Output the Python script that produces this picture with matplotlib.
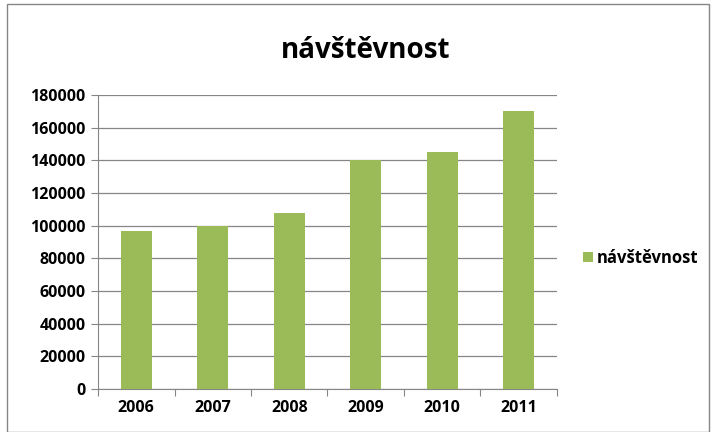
import matplotlib
matplotlib.use("Agg")
import matplotlib.pyplot as plt
from matplotlib.patches import Rectangle

# data
roky = ["2006", "2007", "2008", "2009", "2010", "2011"]
navstevnost = [97000, 100000, 108000, 140000, 145000, 170000]
y_ticks = [0, 20000, 40000, 60000, 80000, 100000, 120000, 140000, 160000, 180000]

plt.rcParams['font.family'] = ['Open Sans', 'DejaVu Sans']

fig = plt.figure(figsize=(7.13, 4.32), dpi=100)
ax = fig.add_axes([98 / 713, 1 - 389 / 432, 459 / 713, 294 / 432])

x = range(len(roky))
ax.bar(x, navstevnost, width=0.4, color="#9BBB59", zorder=3, label="návštěvnost")

ax.set_xlim(-0.5, len(roky) - 0.5)
ax.set_ylim(0, 180000)
ax.set_yticks(y_ticks)
ax.set_yticklabels([str(v) for v in y_ticks], fontsize=11.5, fontweight="bold")
ax.set_xticks([i - 0.5 for i in range(len(roky) + 1)], minor=False)
ax.set_xticklabels([])
ax.set_xticks(list(x), minor=True)
ax.set_xticklabels(roky, minor=True, fontsize=11.5, fontweight="bold")
ax.tick_params(axis="x", which="minor", length=0, pad=8)
ax.tick_params(axis="x", which="major", length=5, color="#868686")
ax.tick_params(axis="y", length=5, color="#868686", pad=4)

ax.grid(axis="y", color="#868686", linewidth=0.9, zorder=0)
for s in ["top", "right"]:
    ax.spines[s].set_visible(False)
ax.spines["left"].set_color("#868686")
ax.spines["bottom"].set_color("#868686")

fig.text(366 / 713, 1 - 50 / 432, "návštěvnost", fontsize=20, fontweight="bold",
         ha="center", va="center")

fig.legend(loc="center left", bbox_to_anchor=(568 / 713, 1 - 258 / 432), frameon=False,
           handlelength=0.6, handleheight=0.6, handletextpad=0.2,
           prop={"size": 12, "weight": "bold"})

fig.patches.append(Rectangle((7 / 713, 0.0), 1 - 11 / 713, 1 - 4 / 432, transform=fig.transFigure,
                             fill=False, edgecolor="#868686", linewidth=1))

fig.savefig("out.png", dpi=100)
